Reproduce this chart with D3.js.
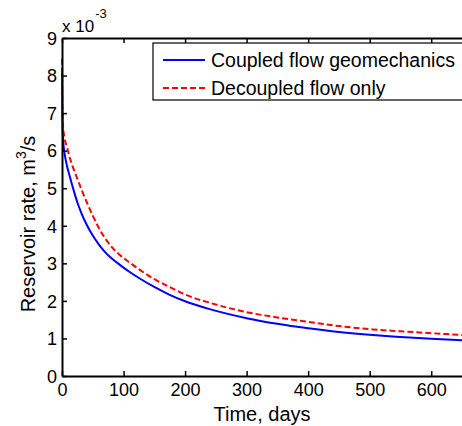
<!DOCTYPE html>
<html>
<head>
<meta charset="utf-8">
<script src="https://cdn.jsdelivr.net/npm/d3@7"></script>
<style>
  body { margin: 0; background: #fff; }
  svg { display: block; font-family: "Liberation Sans", Arial, sans-serif; }
</style>
</head>
<body>
<svg id="chart" width="462" height="426"></svg>
<script>
// time in days, rate in units of 1e-3 m^3/s
const days = [0, 0.5, 1, 2, 4, 8, 12, 18, 25, 32, 41, 50, 60, 70, 80, 94, 110, 127, 150, 175, 200, 240, 300, 350, 400, 450, 505, 550, 600, 650];
const coupled = [8.2, 7.1, 6.6, 6.25, 5.95, 5.6, 5.35, 5.0, 4.62, 4.32, 4.0, 3.74, 3.5, 3.3, 3.14, 2.96, 2.77, 2.59, 2.37, 2.16, 1.99, 1.78, 1.54, 1.39, 1.27, 1.17, 1.09, 1.04, 0.99, 0.95];
const decoupled = [8.45, 7.3, 6.9, 6.6, 6.35, 6.1, 5.85, 5.55, 5.25, 4.95, 4.6, 4.27, 3.94, 3.67, 3.45, 3.22, 3.02, 2.82, 2.58, 2.37, 2.17, 1.95, 1.70, 1.56, 1.44, 1.33, 1.24, 1.19, 1.14, 1.09];

const xTicks = [0, 100, 200, 300, 400, 500, 600];
const yTicks = [0, 1, 2, 3, 4, 5, 6, 7, 8, 9];
const seriesNames = ["Coupled flow geomechanics", "Decoupled flow only"];

const svg = d3.select('#chart');

const mLeft = 62, mRight = 462, mTop = 38, mBottom = 376;

const x = d3.scaleLinear().domain([0, 650]).range([mLeft, mRight]);
const y = d3.scaleLinear().domain([0, 9]).range([mBottom, mTop]);

// curves
const line = d3.line()
  .x(d => x(d[0]))
  .y(d => y(d[1]))
  .curve(d3.curveMonotoneX);

svg.append('path')
  .datum(days.map((t, i) => [t, coupled[i]]))
  .attr('fill', 'none')
  .attr('stroke', '#0000ff')
  .attr('stroke-width', 2)
  .attr('d', line);

svg.append('path')
  .datum(days.map((t, i) => [t, decoupled[i]]))
  .attr('fill', 'none')
  .attr('stroke', '#ff0000')
  .attr('stroke-width', 2)
  .attr('stroke-dasharray', '6,3')
  .attr('d', line);

// axes, ticks pointing inward like matlab
const xAxis = svg.append('g')
  .attr('transform', `translate(0,${mBottom})`)
  .call(d3.axisBottom(x).tickValues(xTicks).tickSizeInner(-5).tickSizeOuter(0).tickPadding(7));

const xTop = svg.append('g')
  .attr('transform', `translate(0,${mTop})`)
  .call(d3.axisTop(x).tickValues(xTicks).tickSizeInner(-5).tickSizeOuter(0).tickFormat(''));

const yAxis = svg.append('g')
  .attr('transform', `translate(${mLeft},0)`)
  .call(d3.axisLeft(y).tickValues(yTicks).tickSizeInner(-5).tickSizeOuter(0).tickPadding(5));

for (let g of [xAxis, xTop, yAxis]) {
  g.select('.domain').attr('stroke', '#000').attr('stroke-width', 2);
  g.selectAll('.tick line').attr('stroke', '#000').attr('stroke-width', 1.5);
  g.selectAll('.tick text')
    .attr('fill', '#000')
    .style('font-size', '18px')
    .style('font-family', '"Liberation Sans", Arial, sans-serif');
}
yAxis.selectAll('.tick text').attr('dy', '0.35em');

// exponent label
const expo = svg.append('text')
  .attr('x', 62)
  .attr('y', 32)
  .style('font-size', '17px');
expo.append('tspan').text('x 10');
expo.append('tspan').attr('dy', -14).attr('dx', 1).style('font-size', '13px').text('-3');

// axis labels
svg.append('text')
  .attr('x', (mLeft + mRight) / 2)
  .attr('y', 421)
  .attr('text-anchor', 'middle')
  .style('font-size', '20px')
  .text('Time, days');

const ylab = svg.append('text')
  .attr('transform', `translate(35,${(mTop + mBottom) / 2 + 17}) rotate(-90)`)
  .attr('text-anchor', 'middle')
  .style('font-size', '20px');
ylab.append('tspan').text('Reservoir rate, m');
ylab.append('tspan').attr('dy', -9).style('font-size', '14px').text('3');
ylab.append('tspan').attr('dy', 9).text('/s');

// legend
const lg = svg.append('g');
lg.append('rect')
  .attr('x', 153).attr('y', 43)
  .attr('width', 330).attr('height', 57)
  .attr('fill', '#fff')
  .attr('stroke', '#000')
  .attr('stroke-width', 1.2);

const legendRows = [
  { name: seriesNames[0], color: '#0000ff', dash: null },
  { name: seriesNames[1], color: '#ff0000', dash: '6,3' }
];
legendRows.forEach((r, i) => {
  const cy = 60 + i * 28;
  lg.append('line')
    .attr('x1', 163).attr('x2', 205)
    .attr('y1', cy).attr('y2', cy)
    .attr('stroke', r.color)
    .attr('stroke-width', 2)
    .attr('stroke-dasharray', r.dash);
  lg.append('text')
    .attr('x', 211)
    .attr('y', cy + 7)
    .style('font-size', '19.5px')
    .text(r.name);
});
</script>
</body>
</html>
